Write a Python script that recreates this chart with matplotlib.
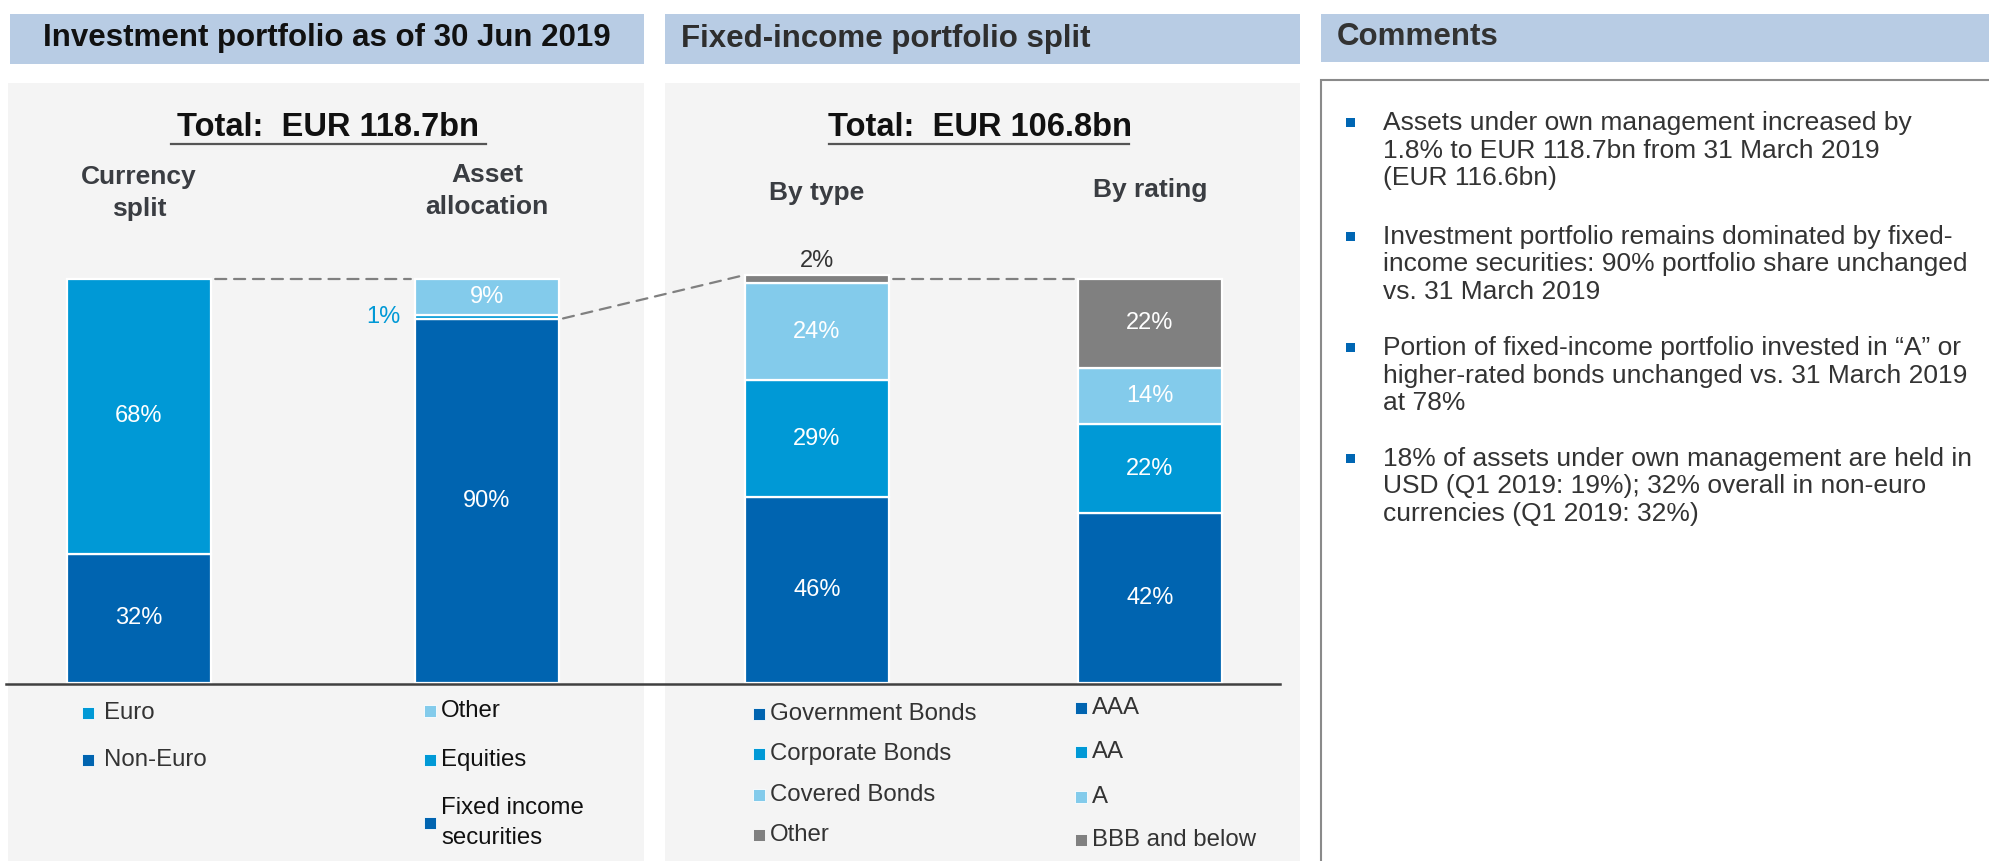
import matplotlib
matplotlib.use("Agg")
import matplotlib.pyplot as plt
from matplotlib.patches import Rectangle, ConnectionPatch
from matplotlib.lines import Line2D

plt.rcParams['font.family'] = ['Liberation Sans', 'DejaVu Sans']

# ---------------------------------------------------------------
# Data (shares in %, stacks listed bottom -> top)
# ---------------------------------------------------------------
currency_labels = ["Non-Euro", "Euro"]
currency_values = [32, 68]

asset_labels = ["Fixed income\nsecurities", "Equities", "Other"]
asset_values = [90, 1, 9]

type_labels = ["Government Bonds", "Corporate Bonds", "Covered Bonds", "Other"]
type_values = [46, 29, 24, 2]

rating_labels = ["AAA", "AA", "A", "BBB and below"]
rating_values = [42, 22, 14, 22]

bar_titles = ["Currency\nsplit", "Asset\nallocation", "By type", "By rating"]
totals = ["Total:  EUR 118.7bn", "Total:  EUR 106.8bn"]
headers = ["Investment portfolio as of 30 Jun 2019", "Fixed-income portfolio split", "Comments"]

comments = [
    ["Assets under own management increased by",
     "1.8% to EUR 118.7bn from 31 March 2019",
     "(EUR 116.6bn)"],
    ["Investment portfolio remains dominated by fixed-",
     "income securities: 90% portfolio share unchanged",
     "vs. 31 March 2019"],
    ["Portion of fixed-income portfolio invested in \u201cA\u201d or",
     "higher-rated bonds unchanged vs. 31 March 2019",
     "at 78%"],
    ["18% of assets under own management are held in",
     "USD (Q1 2019: 19%); 32% overall in non-euro",
     "currencies (Q1 2019: 32%)"],
]

# ---------------------------------------------------------------
# Styling
# ---------------------------------------------------------------
DARK = '#0064b0'
MID = '#0099d6'
LIGHT = '#83cbeb'
GREY = '#808080'
HEADER_BG = '#b8cce4'
PANEL_BG = '#f4f4f4'
TEXT = '#333333'

W, H = 1990, 861


def fx(x):
    return x / W


def fy(y):
    return 1 - y / H


fig = plt.figure(figsize=(W / 100, H / 100), dpi=100)
fig.patch.set_facecolor('white')


def frect(x0, y0, x1, y1, zorder=-5, **kw):
    r = Rectangle((fx(x0), fy(y1)), (x1 - x0) / W, (y1 - y0) / H,
                  transform=fig.transFigure, zorder=zorder, **kw)
    fig.patches.append(r)
    return r


# header bands and panel backgrounds
frect(10, 14, 644, 64, facecolor=HEADER_BG, edgecolor='none')
frect(665, 14, 1300, 64, facecolor=HEADER_BG, edgecolor='none')
frect(1321, 14, 1990, 62, facecolor=HEADER_BG, edgecolor='none')
frect(8, 83, 644, 861, facecolor=PANEL_BG, edgecolor='none')
frect(665, 83, 1300, 861, facecolor=PANEL_BG, edgecolor='none')
frect(1321, 80, 2010, 880, facecolor='white', edgecolor='#8a8a8a', linewidth=1.5)

fig.text(fx(327), fy(38), headers[0], fontsize=22.5, fontweight='bold',
         color='#111111', ha='center', va='center')
fig.text(fx(681), fy(39), headers[1], fontsize=22.5, fontweight='bold',
         color='#2e2e2e', ha='left', va='center')
fig.text(fx(1337), fy(37), headers[2], fontsize=22.5, fontweight='bold',
         color='#333333', ha='left', va='center')

# totals with underline
for (cx, x0, x1), label in zip([(328, 171, 486), (980, 829, 1129)], totals):
    fig.text(fx(cx), fy(127), label, fontsize=23.5, fontweight='bold',
             color='#111111', ha='center', va='center')
    fig.lines.append(Line2D([fx(x0), fx(x1)], [fy(144), fy(144)],
                            transform=fig.transFigure, color='#555555', lw=1.6))

# ---------------------------------------------------------------
# Stacked bars, one axes per bar
# ---------------------------------------------------------------
bar_centres = [139, 487, 817, 1150]
base_y = 683
px_per_pct = 4.04
axis_w = 200
bar_w = 0.72

stacks = [
    (currency_values, [DARK, MID]),
    (asset_values, [DARK, MID, LIGHT]),
    (type_values, [DARK, MID, LIGHT, GREY]),
    (rating_values, [DARK, MID, LIGHT, GREY]),
]
title_y = [193, 191, 193, 190]

axes = []
for i, ((values, colors), cx) in enumerate(zip(stacks, bar_centres)):
    ax = fig.add_axes([fx(cx - axis_w / 2), fy(base_y), axis_w / W, 100 * px_per_pct / H])
    ax.set_xlim(-0.5, 0.5)
    ax.set_ylim(0, 100)
    ax.axis('off')
    bottom = 0
    for v, c in zip(values, colors):
        ax.bar(0, v, bar_w, bottom=bottom, color=c, edgecolor='white',
               linewidth=1.6, clip_on=False, zorder=2)
        mid = bottom + v / 2
        if v >= 5:
            ax.text(0, mid, f"{v}%", color='white', fontsize=17,
                    ha='center', va='center', zorder=3)
        elif i == 1:
            ax.annotate(f"{v}%", (-bar_w / 2, mid), xytext=(-15, 0),
                        textcoords='offset pixels', color=c, fontsize=17,
                        ha='right', va='center', annotation_clip=False)
        else:
            ax.annotate(f"{v}%", (0, bottom + v), xytext=(0, 14),
                        textcoords='offset pixels', color='#333333', fontsize=17,
                        ha='center', va='center', annotation_clip=False)
        bottom += v
    fig.text(fx(cx), fy(title_y[i]), bar_titles[i], fontsize=19, fontweight='bold',
             color='#3a3d42', ha='center', va='center', linespacing=1.4)
    axes.append(ax)

# dashed connectors between the bars; the two fixed-income bars are joined
# at the 100% level of the fixed-income portfolio
links = [
    (0, sum(currency_values), 1, sum(asset_values)),
    (1, asset_values[0], 2, sum(type_values)),
    (2, sum(rating_values), 3, sum(rating_values)),
]
for a, ya, b, yb in links:
    con = ConnectionPatch((bar_w / 2, ya), (-bar_w / 2, yb),
                          coordsA=axes[a].transData, coordsB=axes[b].transData,
                          color=GREY, lw=1.6, linestyle=(0, (5, 3.5)),
                          shrinkA=3, shrinkB=3, zorder=5)
    fig.add_artist(con)

# category axis line
fig.lines.append(Line2D([fx(6), fx(1280)], [fy(base_y + 1), fy(base_y + 1)],
                        transform=fig.transFigure, color='#404040', lw=1.8, zorder=5))

# ---------------------------------------------------------------
# Legends (drawn top -> bottom as in the bar stacks)
# ---------------------------------------------------------------
def legend_column(x_mark, x_text, ys, labels, colors, color=TEXT):
    for y, lab, c in zip(ys, labels, colors):
        frect(x_mark - 6, y - 6, x_mark + 6, y + 6, zorder=2, facecolor=c,
              edgecolor='white', linewidth=0.6)
        fig.text(fx(x_text), fy(y), lab, fontsize=17.3, color=color,
                 ha='left', va='center', linespacing=1.45)


legend_column(88, 104, [713, 760], currency_labels[::-1], [MID, DARK])
legend_column(430, 441, [711, 760, 823], asset_labels[::-1], [LIGHT, MID, DARK], color='#111111')
legend_column(759, 770, [714, 754, 795, 835], type_labels, [DARK, MID, LIGHT, GREY])
legend_column(1081, 1092, [708, 752, 797, 840], rating_labels, [DARK, MID, LIGHT, GREY])

# ---------------------------------------------------------------
# Comments
# ---------------------------------------------------------------
para_y = [123, 237, 348, 459]
line_step = 27.5
for y0, lines in zip(para_y, comments):
    frect(1346, y0 - 5, 1355, y0 + 4, zorder=2, facecolor='#0066b3', edgecolor='none')
    for k, line in enumerate(lines):
        fig.text(fx(1383), fy(y0 + k * line_step), line, fontsize=19,
                 color=TEXT, ha='left', va='center')

fig.savefig('out.png', dpi=100, facecolor='white')
